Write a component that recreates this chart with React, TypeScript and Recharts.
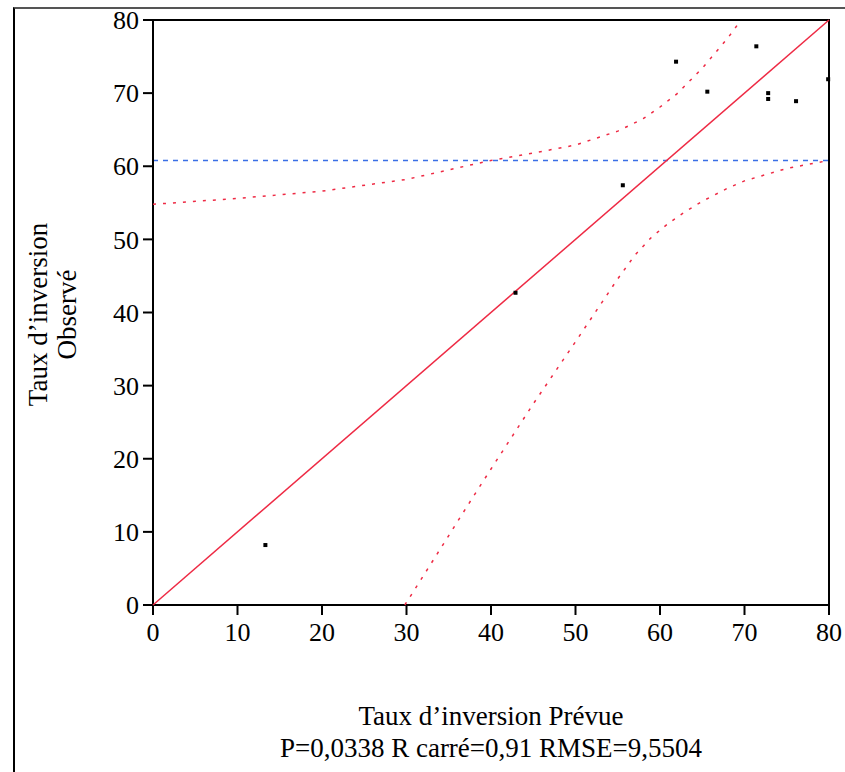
import React from 'react';
import {
  ScatterChart,
  Scatter,
  XAxis,
  YAxis,
  ReferenceLine,
  ReferenceArea,
  Label,
} from 'recharts';

// observed vs predicted points
const predicted = [13.3, 42.9, 55.6, 61.9, 65.6, 71.4, 72.8, 72.8, 76.1, 79.9];
const observed = [8.2, 42.7, 57.4, 74.3, 70.2, 76.4, 70.0, 69.2, 68.9, 71.9];

const fitX = [0, 80];
const fitY = [0, 80];

// confidence curves
const upperX = [0, 10, 20, 30, 40, 45, 50, 55, 58, 60, 62, 65, 68, 69.6];
const upperY = [54.8, 55.6, 56.6, 58.2, 60.8, 61.8, 62.9, 64.8, 66.5, 68.1, 69.9, 73.4, 77.5, 80];

const lowerX = [29.8, 32, 35, 38, 40, 45, 50, 55, 57, 59, 61, 63, 65, 68, 70, 75, 80];
const lowerY = [0, 4, 9.5, 15, 18.6, 27.5, 36, 44.6, 47.8, 50.3, 52.2, 53.8, 55.2, 57.0, 58.0, 59.7, 60.8];

const meanObserved = 60.8;
const axisTicks = [0, 10, 20, 30, 40, 50, 60, 70, 80];

const zip = (xs: number[], ys: number[]) => xs.map((x, i) => ({ x, y: ys[i] }));

const points = zip(predicted, observed);
const fitLine = zip(fitX, fitY);
const upperCurve = zip(upperX, upperY);
const lowerCurve = zip(lowerX, lowerY);

const FONT = '"Liberation Serif", "Times New Roman", serif';
const RED = '#ee2a44';

const noDot = () => <g />;

const Square = (props: any) => {
  const { cx, cy } = props;
  return <rect x={cx - 2} y={cy - 2} width={4} height={4} fill="#000" />;
};

const YLabel = (props: any) => {
  const vb = props.viewBox || {};
  const cy = vb.y + vb.height / 2 + 2;
  return (
    <g>
      <text x={38} y={cy} transform={`rotate(-90, 38, ${cy})`} textAnchor="middle"
        dominantBaseline="central" fontFamily={FONT} fontSize={27} fill="#000">
        Taux d’inversion
      </text>
      <text x={67} y={cy} transform={`rotate(-90, 67, ${cy})`} textAnchor="middle"
        dominantBaseline="central" fontFamily={FONT} fontSize={27} fill="#000">
        Observé
      </text>
    </g>
  );
};

const XLabel = (props: any) => {
  const vb = props.viewBox || {};
  const cx = vb.x + vb.width / 2;
  return (
    <g>
      <text x={cx} y={716} textAnchor="middle" dominantBaseline="central"
        fontFamily={FONT} fontSize={27} fill="#000">
        Taux d’inversion Prévue
      </text>
      <text x={cx} y={748} textAnchor="middle" dominantBaseline="central"
        fontFamily={FONT} fontSize={27} fill="#000">
        P=0,0338 R carré=0,91 RMSE=9,5504
      </text>
    </g>
  );
};

export default function App() {
  const tickStyle = { fill: '#000', fontSize: 26, fontFamily: FONT };
  return (
    <div style={{ position: 'fixed', left: 0, top: 0, width: 845, height: 772, background: '#fff' }}>
      <div
        style={{
          position: 'absolute',
          left: 13,
          top: 7,
          width: 845 - 13,
          height: 772 - 7,
          borderLeft: '2px solid #000',
          borderTop: '2px solid #555',
          boxSizing: 'border-box',
        }}
      />
      <div style={{ position: 'absolute', left: 0, top: 0 }}>
        <ScatterChart width={845} height={772} margin={{ top: 20, right: 16, bottom: 0, left: 0 }}>
          <XAxis
            type="number"
            dataKey="x"
            domain={[0, 80]}
            ticks={axisTicks}
            interval={0}
            stroke="#000"
            strokeWidth={2}
            tickSize={10}
            tickMargin={8}
            tick={tickStyle}
            height={167}
          >
            <Label content={<XLabel />} />
          </XAxis>
          <YAxis
            type="number"
            dataKey="y"
            domain={[0, 80]}
            ticks={axisTicks}
            interval={0}
            stroke="#000"
            strokeWidth={2}
            tickSize={10}
            tickMargin={4}
            tick={tickStyle}
            width={153}
          >
            <Label content={<YLabel />} />
          </YAxis>
          <ReferenceArea x1={0} x2={80} y1={0} y2={80} fill="none" stroke="#000" strokeWidth={2} />
          <ReferenceLine y={meanObserved} stroke="#3a6fe6" strokeWidth={1.5} strokeDasharray="5 5" />
          <Scatter
            data={upperCurve}
            stroke={RED}
            line={{ stroke: RED, strokeWidth: 1.5, strokeDasharray: '3 7' }}
            shape={noDot}
            isAnimationActive={false}
          />
          <Scatter
            data={lowerCurve}
            stroke={RED}
            line={{ stroke: RED, strokeWidth: 1.5, strokeDasharray: '3 7' }}
            shape={noDot}
            isAnimationActive={false}
          />
          <Scatter
            data={fitLine}
            stroke={RED}
            line={{ stroke: RED, strokeWidth: 1.5 }}
            shape={noDot}
            isAnimationActive={false}
          />
          <Scatter data={points} fill="#000" shape={<Square />} isAnimationActive={false} />
        </ScatterChart>
      </div>
    </div>
  );
}
